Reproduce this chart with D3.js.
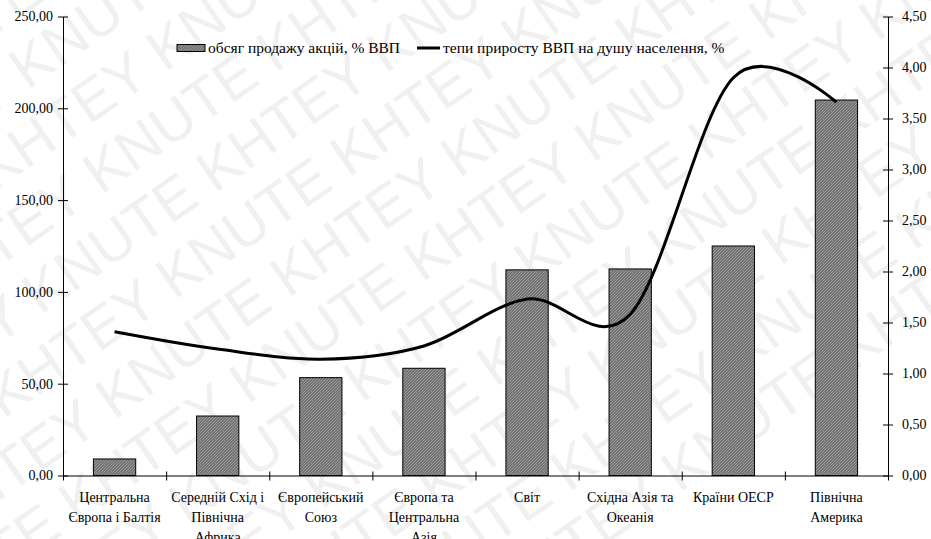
<!DOCTYPE html>
<html lang="uk">
<head>
    <meta charset="UTF-8">
    <style>
        body { margin: 0; background: #fff; }
        .tick text { font-size: 14px; }
        .cat text { font-size: 14px; text-anchor: middle; }
        .legend text { font-size: 15.5px; }
        .wm text { font-size: 58px; fill: #f0f0f0; }
    </style>
    <script src="https://d3js.org/d3.v7.min.js"></script>
    <title>Обсяг продажу акцій і темпи приросту ВВП</title>
</head>
<body>
    <svg width="931" height="539"></svg>
    <script>

        // data
        var categories = [
            ["Центральна", "Європа і Балтія"],
            ["Середній Схід і", "Північна", "Африка"],
            ["Європейський", "Союз"],
            ["Європа та", "Центральна", "Азія"],
            ["Світ"],
            ["Східна Азія та", "Океанія"],
            ["Країни ОЕСР"],
            ["Північна", "Америка"]
        ];
        var salesValues = [9.0, 32.4, 53.3, 58.4, 112.0, 112.5, 125.0, 204.5];
        var growthValues = [1.41, 1.24, 1.14, 1.27, 1.73, 1.58, 3.9, 3.66];
        var leftTicks = [0, 50, 100, 150, 200, 250];
        var rightTicks = [0, 0.5, 1, 1.5, 2, 2.5, 3, 3.5, 4, 4.5];
        var legendLabels = ["обсяг продажу акцій, % ВВП", "тепи приросту ВВП на душу населення, %"];

        var svg = d3.select("svg"),
            plotLeft = 63, plotRight = 888, plotTop = 16.5, plotBottom = 475.5;

        var fmt = function(d) { return d3.format(".2f")(d).replace(".", ","); };

        // faint watermark in the background
        var wm = svg.append("g").attr("class", "wm")
            .attr("font-family", "sans-serif")
            .attr("transform", "rotate(-35 465 270)");
        for (var r = -4; r < 10; r++) {
            var words = d3.range(7).map(function(i) { return (i + r) % 2 ? "KNUTE" : "KHTEY"; }).join(" ");
            wm.append("text")
                .attr("x", -420 + (r % 2) * 90)
                .attr("y", r * 64)
                .text(words);
        }

        // fine hatched fill for the bars
        var defs = svg.append("defs");
        var pat = defs.append("pattern")
            .attr("id", "hatch")
            .attr("patternUnits", "userSpaceOnUse")
            .attr("width", 3).attr("height", 3);
        pat.append("rect").attr("width", 3).attr("height", 3).attr("fill", "#727272");
        pat.append("path")
            .attr("d", "M-1,1 l2,-2 M0,3 l3,-3 M2,4 l2,-2")
            .attr("stroke", "#a8a8a8").attr("stroke-width", 0.8);

        var x = d3.scaleBand()
            .domain(d3.range(categories.length))
            .range([plotLeft, plotRight])
            .paddingInner(0.59)
            .paddingOuter(0.295);

        var band = d3.scaleBand()
            .domain(d3.range(categories.length))
            .range([plotLeft, plotRight]);

        var yLeft = d3.scaleLinear().domain([0, 250]).range([plotBottom, plotTop]);
        var yRight = d3.scaleLinear().domain([0, 4.5]).range([plotBottom, plotTop]);

        // bars
        svg.append("g").selectAll("rect")
            .data(salesValues)
            .enter().append("rect")
            .attr("x", function(d, i) { return x(i); })
            .attr("y", function(d) { return yLeft(d); })
            .attr("width", x.bandwidth())
            .attr("height", function(d) { return plotBottom - yLeft(d); })
            .attr("fill", "url(#hatch)")
            .attr("stroke", "#000")
            .attr("stroke-width", 1);

        // smoothed line
        var line = d3.line()
            .x(function(d, i) { return band(i) + band.bandwidth() / 2; })
            .y(function(d) { return yRight(d); })
            .curve(d3.curveCatmullRom.alpha(0));

        svg.append("path")
            .datum(growthValues)
            .attr("d", line)
            .attr("fill", "none")
            .attr("stroke", "#000")
            .attr("stroke-width", 3);

        // axes
        var axL = svg.append("g")
            .attr("transform", "translate(" + plotLeft + ",0)")
            .call(d3.axisLeft(yLeft).tickValues(leftTicks).tickFormat(fmt).tickSizeOuter(0).tickSizeInner(5).tickPadding(5))
            .attr("font-family", "serif");
        axL.selectAll(".tick line").attr("x1", 5);

        var axR = svg.append("g")
            .attr("transform", "translate(" + plotRight + ",0)")
            .call(d3.axisRight(yRight).tickValues(rightTicks).tickFormat(fmt).tickSizeOuter(0).tickSizeInner(5).tickPadding(9))
            .attr("font-family", "serif");
        axR.selectAll(".tick line").attr("x1", -5);

        var axB = svg.append("g")
            .attr("transform", "translate(0," + plotBottom + ")")
            .call(d3.axisBottom(d3.scaleLinear().domain([0, categories.length]).range([plotLeft, plotRight]))
                .tickValues(d3.range(categories.length + 1)).tickFormat("").tickSizeOuter(0).tickSizeInner(5));
        axB.selectAll(".tick line").attr("y1", -4);

        svg.selectAll(".domain").attr("stroke", "#000");
        svg.selectAll(".tick line").attr("stroke", "#000");
        svg.selectAll(".tick text").attr("fill", "#000");

        // category labels
        var cat = svg.append("g").attr("class", "cat").attr("font-family", "serif");
        categories.forEach(function(lines, i) {
            var cx = band(i) + band.bandwidth() / 2;
            var t = cat.append("text").attr("x", cx).attr("y", 502);
            lines.forEach(function(s, j) {
                t.append("tspan").attr("x", cx).attr("dy", j ? 20 : 0).text(s);
            });
        });

        // legend
        var lg = svg.append("g").attr("class", "legend").attr("font-family", "serif");
        lg.append("rect").attr("x", 177).attr("y", 44.5).attr("width", 28).attr("height", 7)
            .attr("fill", "url(#hatch)").attr("stroke", "#000");
        lg.append("text").attr("x", 208).attr("y", 53).text(legendLabels[0]);
        lg.append("line").attr("x1", 417).attr("x2", 440).attr("y1", 48).attr("y2", 48)
            .attr("stroke", "#000").attr("stroke-width", 3);
        lg.append("text").attr("x", 443).attr("y", 53).text(legendLabels[1]);

    </script>
</body>
</html>
